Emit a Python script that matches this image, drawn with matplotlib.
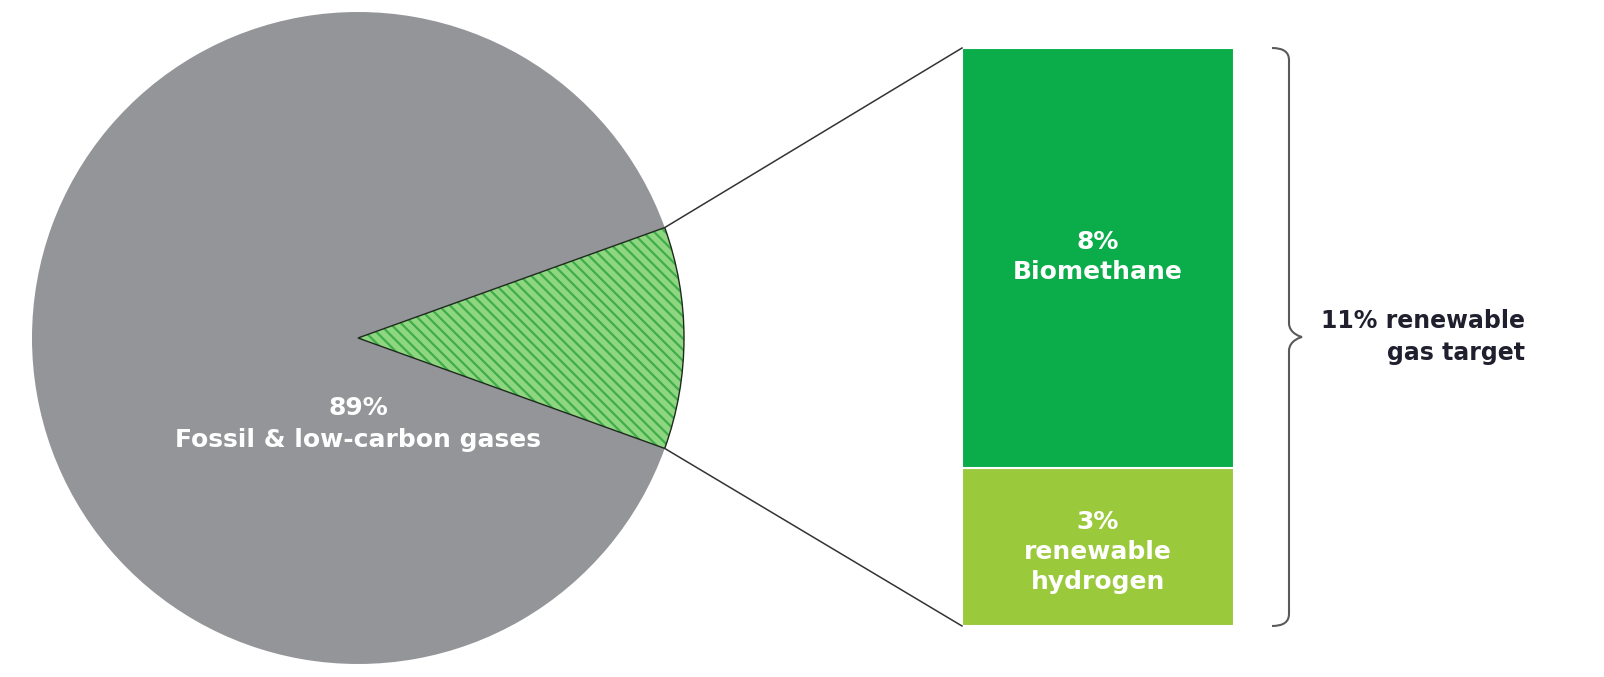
import numpy as np
import matplotlib.pyplot as plt
from matplotlib.path import Path
from matplotlib.patches import PathPatch, Wedge

# shares of the gas mix, in percent
pie_labels = ["Fossil & low-carbon gases", "Renewable gases"]
pie_values = [89, 11]

bar_labels = ["renewable\nhydrogen", "Biomethane"]
bar_values = [3, 8]
bar_colors = ["#9bc93c", "#0bad4a"]

GREY = "#939598"
TEXT_DARK = "#1f1f2e"

plt.rcParams["font.family"] = ["DejaVu Sans"]
plt.rcParams["hatch.linewidth"] = 1.6

W, H = 1604, 677
fig = plt.figure(figsize=(W / 100, H / 100), dpi=100)
ax = fig.add_axes([0, 0, 1, 1])

# pie, renewable slice centred on the right-hand side
cx, cy, r = 358, 339, 326
half = pie_values[1] / sum(pie_values) * 360 / 2
wedges, _ = ax.pie(pie_values, center=(cx, cy), radius=r, startangle=half,
                   colors=[GREY, "#8ed67f"], frame=True)
# striped slice: hatch drawn in edge colour, outline added separately
wedges[1].set_hatch("\\\\\\")
wedges[1].set_edgecolor("#40ad4c")
wedges[1].set_linewidth(0)
w = wedges[1]
ax.add_patch(Wedge(w.center, w.r, w.theta1, w.theta2, fill=False,
                   edgecolor="#1f2a1f", lw=1.0))
ax.set_xlim(0, W)
ax.set_ylim(0, H)
ax.set_aspect("equal")
ax.axis("off")

ax.text(cx, cy - 86, f"{pie_values[0]}%\n{pie_labels[0]}", ha="center", va="center",
        color="white", fontsize=18, fontweight="bold", linespacing=1.4)

# stacked bar
bx, bw = 1098, 272
bottom0, total_h = 51, 578
scale = total_h / sum(bar_values)
bottom = bottom0
mids = []
for val, col in zip(bar_values, bar_colors):
    ax.bar(bx, val * scale, width=bw, bottom=bottom, color=col,
           edgecolor="white", linewidth=1.5)
    mids.append(bottom + val * scale / 2)
    bottom += val * scale
bar_top = bottom

ax.text(bx, mids[0] - 5, f"{bar_values[0]}%\n{bar_labels[0]}", ha="center", va="center",
        color="white", fontsize=18, fontweight="bold", linespacing=1.3)
ax.text(bx, mids[1] + 1, f"{bar_values[1]}%\n{bar_labels[1]}", ha="center", va="center",
        color="white", fontsize=18, fontweight="bold", linespacing=1.3)

# connector lines from slice edge to bar corners
a = np.radians(half)
ax.plot([cx + r * np.cos(a), bx - bw / 2], [cy + r * np.sin(a), bar_top],
        color="#333333", lw=1.1)
ax.plot([cx + r * np.cos(-a), bx - bw / 2], [cy + r * np.sin(-a), bottom0],
        color="#333333", lw=1.1)

# curly brace
x0, x1, tip = 1272, 1289, 1302
ymid = (bar_top + bottom0) / 2
verts = [(x0, bar_top), (x1, bar_top), (x1, bar_top - 12),
         (x1, ymid + 14),
         (x1, ymid + 3), (tip, ymid), (tip, ymid),
         (tip, ymid), (x1, ymid - 3), (x1, ymid - 14),
         (x1, bottom0 + 12),
         (x1, bottom0), (x0, bottom0)]
codes = [Path.MOVETO, Path.CURVE3, Path.CURVE3,
         Path.LINETO,
         Path.CURVE4, Path.CURVE4, Path.CURVE4,
         Path.CURVE4, Path.CURVE4, Path.CURVE4,
         Path.LINETO,
         Path.CURVE3, Path.CURVE3]
ax.add_patch(PathPatch(Path(verts, codes), fill=False, edgecolor="#5a5a5a", lw=1.5))

total = sum(bar_values)
ax.text(1525, ymid, f"{total}% renewable\ngas target", ha="right", va="center",
        multialignment="right", color=TEXT_DARK, fontsize=17, fontweight="bold",
        linespacing=1.38)

fig.savefig("out.png", dpi=100)
